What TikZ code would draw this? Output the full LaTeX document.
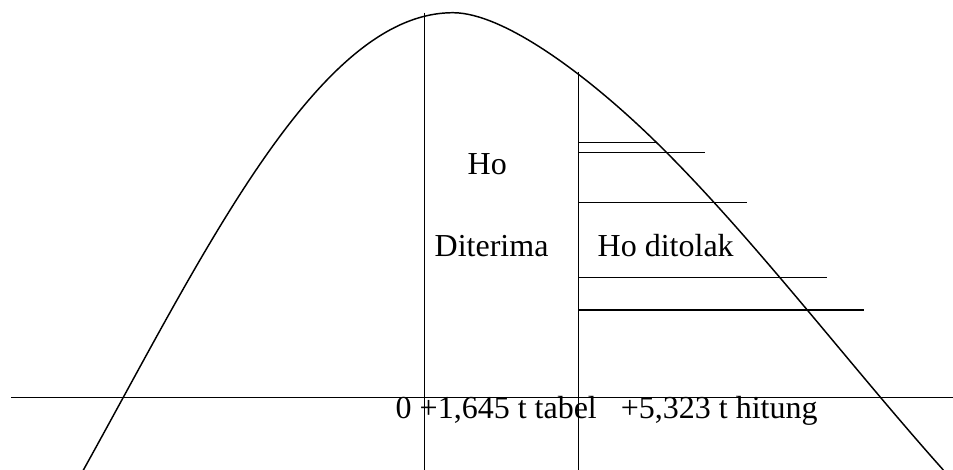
\documentclass[tikz,border=0pt]{standalone}
\usepackage{fontspec}
\setmainfont{Liberation Serif}
\usepackage{tikz}
\definecolor{kurva}{HTML}{000000}

\begin{document}
\begin{tikzpicture}[x=0.75pt,y=-0.75pt,line width=1.1pt,
  lbl/.style={inner sep=0pt,font=\fontsize{24}{28}\selectfont}]
  \useasboundingbox (0,0) rectangle (953,470);
  \draw (11,397.3) -- (953,397.3);
  \draw (424.3,12.7) -- (424.3,470);
  \draw (578.3,71.7) -- (578.3,470);
  \foreach \y/\xe in {142.7/657,152.3/705,202.3/747,277.7/827,310/864}{\draw (578.3,\y) -- (\xe,\y);}
  % kurva
  \draw[kurva] plot[domain=82:453,samples=80,smooth] (\x,{397.3-384.6*cos(0.27298*(\x-453))})
    .. controls (503,12.7) and (586.7,74.1) .. (656.7,142.7)
    .. controls (751.7,235.8) and (848.3,363.6) .. (943.3,470);
  \node[lbl,anchor=base west] (ho) at (467,175) {Ho};
  \node[lbl,anchor=base west] (diterima) at (434,256.7) {Diterima};
  \node[lbl,anchor=base west] (ditolak) at (597,256.7) {Ho ditolak};
  \node[lbl,anchor=base west] (skala) at (395,418.3) {0 +1,645 t tabel\ \ \ +5,323 t hitung};
\end{tikzpicture}
\end{document}
